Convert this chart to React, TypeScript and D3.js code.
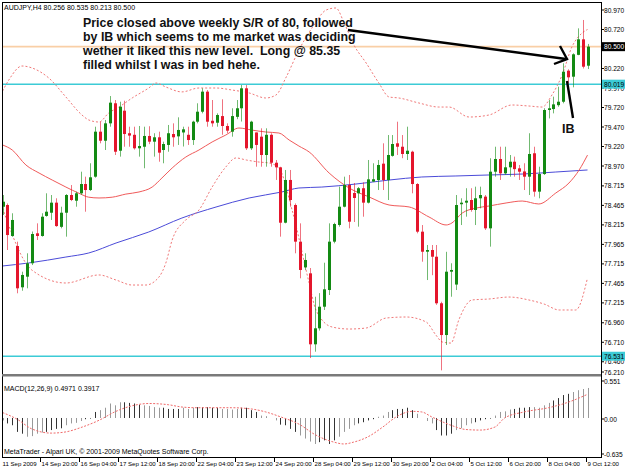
import React from "react";
import * as d3 from "d3";

// AUDJPY H4 candles, 11 Sep 2009 12:00 .. 9 Oct 2009 12:00 (121 bars)
const opens = [
  78.448, 78.47, 78.073, 77.944, 77.415, 77.551, 77.723, 78.107, 78.073, 78.33,
  78.371, 78.5, 78.19, 78.371, 78.598, 78.525, 78.62, 78.739, 78.662, 78.833,
  79.41, 79.294, 79.517, 79.774, 79.166, 79.679, 79.39, 79.37, 79.197, 79.217,
  79.355, 79.282, 79.338, 79.175, 79.24, 79.38, 79.35, 79.4, 79.37, 79.303,
  79.538, 79.666, 79.923, 79.55, 79.525, 79.61, 79.483, 79.41, 79.6, 79.71,
  79.966, 79.197, 79.4, 79.346, 79.111, 79.37, 79.012, 78.953, 78.243, 78.791,
  78.47, 78.0, 77.67, 77.594, 76.684, 76.889, 77.166, 77.38, 78.0, 78.214,
  78.448, 78.726, 78.624, 78.62, 78.685, 78.5, 78.77, 78.79, 79.0, 78.79,
  79.1, 79.261, 79.217, 79.124, 79.153, 78.739, 78.128, 77.871, 77.893, 77.807,
  77.21, 76.803, 77.615, 77.45, 78.48, 78.5, 78.534, 78.406, 78.556, 78.577,
  78.171, 78.897, 79.06, 78.876, 78.953, 79.025, 78.94, 78.9, 78.833, 79.133,
  78.641, 78.867, 79.688, 79.7, 79.75, 79.794, 80.192, 80.115, 80.395, 80.594,
  80.256,
];
const highs = [
  78.598, 78.49, 78.364, 78.0, 77.615, 77.851, 78.13, 78.235, 78.364, 78.62,
  78.598, 78.556, 78.448, 78.61, 78.726, 78.641, 78.897, 78.833, 79.005, 79.474,
  79.538, 79.56, 79.867, 79.816, 79.794, 79.807, 79.474, 79.474, 79.483, 79.474,
  79.48, 79.39, 79.41, 79.282, 79.496, 79.517, 79.594, 79.474, 79.474, 79.55,
  79.774, 79.966, 79.944, 79.816, 79.645, 79.825, 79.517, 79.71, 79.816, 80.008,
  80.008, 79.55, 79.4, 79.453, 79.453, 79.39, 79.047, 78.96, 78.919, 78.919,
  78.49, 78.235, 77.851, 77.662, 77.294, 77.34, 77.73, 78.235, 78.243, 78.705,
  78.833, 78.855, 78.752, 78.7, 78.76, 79.047, 79.005, 79.047, 79.261, 79.367,
  79.367, 79.538, 79.367, 79.474, 79.166, 78.75, 78.213, 77.957, 77.957, 77.957,
  77.23, 77.87, 77.723, 78.598, 78.556, 78.685, 78.685, 78.705, 78.705, 78.598,
  79.069, 79.217, 79.217, 79.217, 79.111, 79.09, 78.983, 79.005, 79.39, 79.217,
  78.961, 79.71, 79.816, 79.859, 79.987, 80.287, 80.21, 80.415, 80.735, 80.842,
  80.535,
];
const lows = [
  78.342, 77.893, 78.063, 77.338, 77.371, 77.402, 77.7, 78.021, 78.064, 78.32,
  78.278, 78.19, 78.171, 78.064, 78.52, 78.448, 78.6, 78.384, 78.65, 78.82,
  79.261, 79.175, 79.474, 79.111, 79.09, 79.217, 79.217, 79.18, 79.09, 78.941,
  79.25, 79.09, 79.025, 79.005, 79.153, 79.217, 79.24, 79.22, 79.24, 79.24,
  79.517, 79.645, 79.474, 79.474, 79.474, 79.37, 79.39, 79.346, 79.57, 79.54,
  79.175, 79.175, 78.961, 78.961, 78.961, 78.961, 78.791, 78.064, 78.235, 78.448,
  77.851, 77.53, 77.637, 76.508, 76.589, 76.86, 77.124, 77.316, 77.979, 78.192,
  78.44, 78.171, 78.252, 78.192, 78.32, 78.49, 78.77, 78.662, 78.662, 78.534,
  79.09, 79.111, 79.07, 79.047, 78.62, 78.107, 77.743, 77.508, 77.57, 77.19,
  76.35, 76.675, 77.294, 77.38, 78.213, 78.32, 78.384, 78.213, 78.427, 78.15,
  77.936, 78.833, 78.791, 78.855, 78.833, 78.833, 78.791, 78.662, 78.598, 78.577,
  78.556, 78.855, 79.58, 79.645, 79.73, 79.774, 80.03, 79.979, 80.39, 80.22,
  80.213,
];
const closes = [
  78.512, 78.085, 78.278, 77.402, 77.573, 77.723, 78.098, 78.073, 78.32, 78.384,
  78.5, 78.2, 78.371, 78.598, 78.534, 78.62, 78.739, 78.662, 78.825, 79.41,
  79.294, 79.517, 79.782, 79.153, 79.73, 79.38, 79.36, 79.197, 79.226, 79.355,
  79.282, 79.338, 79.141, 79.252, 79.39, 79.338, 79.432, 79.44, 79.303, 79.538,
  79.666, 79.923, 79.538, 79.517, 79.624, 79.483, 79.423, 79.61, 79.71, 79.966,
  79.197, 79.538, 79.24, 79.111, 79.37, 79.012, 78.953, 78.243, 78.791, 78.534,
  78.0, 77.637, 77.765, 76.684, 76.889, 77.166, 77.389, 78.0, 78.226, 78.448,
  78.726, 78.256, 78.56, 78.685, 78.5, 78.799, 78.8, 78.983, 78.79, 79.111,
  79.252, 79.217, 79.124, 79.166, 78.739, 78.128, 77.871, 77.893, 77.807, 77.21,
  76.803, 77.615, 77.637, 78.47, 78.5, 78.525, 78.406, 78.556, 78.598, 78.171,
  78.897, 79.06, 78.876, 78.953, 79.025, 78.93, 78.897, 78.833, 79.124, 78.641,
  78.867, 79.688, 79.71, 79.76, 79.794, 80.179, 80.107, 80.402, 80.594, 80.243,
  80.5,
];

// Bollinger bands and moving average at sample bars
const midBars = [0, 2, 4.8, 7.5, 10.2, 13, 15.7, 17.7, 19.8, 22.5, 25.3, 28, 30.7, 32.7, 34.8, 37.6, 40.3, 43, 45.8, 48.5, 51.2, 54, 56.7, 58.8, 60.8, 62.9, 67, 71.1, 75.2, 79.3, 83.4, 87.5, 91, 92.2, 94.3, 97.1, 99.8, 103.3, 106.6, 110, 113.5, 116.2, 118.3, 120];
const midVals = [79.24, 79.175, 78.983, 78.88, 78.79, 78.7, 78.62, 78.57, 78.56, 78.57, 78.61, 78.637, 78.7, 78.816, 78.944, 79.085, 79.175, 79.278, 79.367, 79.457, 79.43, 79.406, 79.393, 79.303, 79.226, 79.15, 78.88, 78.688, 78.573, 78.47, 78.445, 78.316, 78.214, 78.24, 78.367, 78.43, 78.457, 78.496, 78.521, 78.483, 78.624, 78.752, 78.92, 79.11];
const upperBars = [0, 1.3, 4, 6.1, 9.5, 13, 16.3, 17.7, 19.8, 21.8, 23.9, 26.6, 30, 31.5, 33.5, 36.8, 40.3, 43.8, 47.1, 50.6, 54, 56.1, 58.2, 60.8, 63.9, 66.4, 68.4, 70, 72.1, 74.6, 77.2, 79.3, 81.3, 85.4, 89.5, 91.6, 95.7, 99.8, 104.5, 108, 110.7, 112.7, 114.8, 116.8, 118.9, 120];
const upperVals = [79.93, 80.073, 80.252, 80.226, 80.098, 79.855, 79.624, 79.56, 79.534, 79.65, 79.726, 79.842, 79.97, 80.034, 79.983, 79.92, 79.97, 79.97, 79.944, 79.906, 79.842, 79.88, 80.111, 80.457, 80.778, 80.97, 80.996, 80.816, 80.52, 80.29, 80.034, 79.855, 79.842, 79.778, 79.726, 79.726, 79.598, 79.624, 79.752, 79.739, 79.726, 79.88, 80.137, 80.496, 80.675, 80.72];
const lowerBars = [0, 6, 13, 19.8, 23.3, 26.6, 29.4, 32.1, 33.5, 34.8, 37.6, 40.3, 43, 45.8, 47.9, 50, 52.6, 54.7, 56.7, 59.4, 62.9, 64.3, 67.6, 71.1, 74.6, 78.7, 82.8, 86.9, 88.9, 90.2, 92, 93.6, 96.3, 99.8, 103.9, 108, 111.1, 114.2, 117.6, 120];
const lowerVals = [78.43, 77.637, 77.47, 77.573, 77.508, 77.444, 77.444, 77.547, 77.726, 78.021, 78.278, 78.406, 78.7, 78.957, 79.073, 79.047, 79.021, 79.008, 78.944, 78.406, 77.47, 77.124, 76.906, 76.88, 76.893, 77.021, 77.034, 76.97, 76.803, 76.714, 76.7, 76.996, 77.252, 77.265, 77.29, 77.252, 77.2, 77.124, 77.124, 77.534];
const maBars = [0, 5.4, 13, 17.7, 23.3, 30, 36.8, 43.8, 50.6, 57.3, 60.8, 65.5, 72.5, 79.3, 86, 93, 99.8, 106.6, 113.5, 120];
const maVals = [77.688, 77.727, 77.803, 77.855, 77.983, 78.124, 78.303, 78.444, 78.56, 78.637, 78.688, 78.7, 78.739, 78.79, 78.829, 78.842, 78.855, 78.867, 78.893, 78.919];

// MACD(12,26,9)
const macdHist = [
  -0.04, -0.09, -0.12, -0.23, -0.26, -0.31, -0.3, -0.26, -0.24, -0.23,
  -0.2, -0.18, -0.17, -0.12, -0.09, -0.08, -0.05, -0.02, -0.01, 0.1,
  0.13, 0.17, 0.24, 0.21, 0.26, 0.26, 0.25, 0.24, 0.22, 0.21,
  0.2, 0.18, 0.17, 0.17, 0.15, 0.15, 0.15, 0.17, 0.15, 0.17,
  0.18, 0.18, 0.18, 0.17, 0.17, 0.15, 0.15, 0.14, 0.15, 0.17,
  0.17, 0.13, 0.1, 0.04, 0.03, 0.0, -0.04, -0.11, -0.12, -0.18,
  -0.23, -0.29, -0.34, -0.39, -0.43, -0.4, -0.37, -0.43, -0.37, -0.31,
  -0.23, -0.18, -0.12, -0.09, -0.07, -0.04, -0.02, 0.02, 0.04, 0.1,
  0.13, 0.15, 0.15, 0.17, 0.13, 0.07, 0.0, -0.05, -0.09, -0.2,
  -0.29, -0.29, -0.26, -0.2, -0.17, -0.12, -0.09, -0.07, -0.04, -0.02,
  -0.01, 0.04, 0.1, 0.11, 0.14, 0.15, 0.17, 0.17, 0.18, 0.18,
  0.17, 0.21, 0.25, 0.29, 0.33, 0.38, 0.4, 0.43, 0.46, 0.48,
  0.4971,
];
const signalBars = [0, 3, 6, 10, 13, 16, 20, 23, 27, 30, 34, 37, 40, 44, 47, 51, 54, 57, 61, 64, 68, 70, 72, 75, 78, 81, 84, 86, 88, 92, 95, 98, 101, 103, 107, 112, 116, 120];
const signalVals = [0.09, -0.02, -0.18, -0.25, -0.23, -0.16, -0.03, 0.1, 0.21, 0.24, 0.22, 0.18, 0.17, 0.17, 0.17, 0.15, 0.1, 0.02, -0.11, -0.27, -0.4, -0.43, -0.4, -0.31, -0.15, 0.03, 0.11, 0.1, 0.02, -0.12, -0.19, -0.2, -0.15, 0.0, 0.1, 0.17, 0.26, 0.3917];

const priceTicks = ["80.970", "80.720", "80.220", "79.970", "79.720", "79.470", "79.220", "78.970", "78.715", "78.465", "78.215", "77.965", "77.715", "77.465", "77.215", "76.960", "76.710", "76.460", "76.210"];
const dateLabels = ["11 Sep 2009", "14 Sep 20:00", "16 Sep 04:00", "17 Sep 12:00", "18 Sep 20:00", "22 Sep 04:00", "23 Sep 12:00", "24 Sep 20:00", "28 Sep 04:00", "29 Sep 12:00", "30 Sep 20:00", "2 Oct 04:00", "5 Oct 12:00", "6 Oct 20:00", "8 Oct 04:00", "9 Oct 12:00"];
const hLevels = [80.019, 76.531];
const bidPrice = 80.5;
const noteLines = [
  "Price closed above weekly S/R of 80, followed",
  "by IB which seems to me market was deciding",
  "wether it liked this new level.  Long @ 85.35",
  "filled whilst I was in bed hehe.",
];

const W = 625;
const H = 469;
const LEFT = 2;
const RIGHT = 601;
const TOP = 2;
const MAIN_BOTTOM = 374;
const MACD_TOP = 377;
const BOTTOM = 457;
const font = "'Liberation Sans', Arial, sans-serif";

export default function App() {
  const x = d3.scaleLinear().domain([0, 120]).range([2.5, 587.5]);
  const y = d3.scaleLinear().domain([76.21, 80.97]).range([381.28, 10]);
  const ym = d3.scaleLinear().domain([-0.635, 0.551]).range([456.35, 384.72]);

  const series = (bars: number[], vals: number[], sy: d3.ScaleLinear<number, number>) =>
    d3
      .line<number>()
      .x((_, i) => x(bars[i]))
      .y((v) => sy(v))
      .curve(d3.curveMonotoneX)(vals) || "";

  const green = "#138a13";
  const red = "#e4162c";
  const cyan = "#3ccbd6";

  return (
    <svg
      width={W}
      height={H}
      style={{ position: "absolute", left: 0, top: 0, background: "#fff" }}
      fontFamily={font}
    >
      <defs>
        <clipPath id="mainClip">
          <rect x={LEFT + 1} y={TOP + 1} width={RIGHT - LEFT - 1} height={MAIN_BOTTOM - TOP - 1} />
        </clipPath>
        <clipPath id="macdClip">
          <rect x={LEFT + 1} y={MACD_TOP} width={RIGHT - LEFT - 1} height={BOTTOM - MACD_TOP} />
        </clipPath>
      </defs>
      <rect width={W} height={H} fill="#fff" />

      <g clipPath="url(#mainClip)">
        {/* bid line and horizontal S/R lines */}
        <line x1={LEFT} x2={RIGHT} y1={y(bidPrice)} y2={y(bidPrice)} stroke="#f9cfa6" strokeWidth={1.6} />
        {hLevels.map((v) => (
          <line key={v} x1={LEFT} x2={RIGHT} y1={y(v)} y2={y(v)} stroke={cyan} strokeWidth={1.6} />
        ))}

        {/* indicators */}
        <path d={series(maBars, maVals, y)} fill="none" stroke="#4b4bd8" strokeWidth={1} />
        <path d={series(midBars, midVals, y)} fill="none" stroke="#f05a5a" strokeWidth={1} />
        <path d={series(upperBars, upperVals, y)} fill="none" stroke="#f07878" strokeWidth={1} strokeDasharray="2,2" />
        <path d={series(lowerBars, lowerVals, y)} fill="none" stroke="#f07878" strokeWidth={1} strokeDasharray="2,2" />

        {/* candles */}
        {closes.map((c, i) => {
          const o = opens[i];
          const up = c >= o;
          const cx = Math.round(x(i)) + 0.5;
          const col = up ? green : red;
          const top = y(Math.max(o, c));
          const bot = y(Math.min(o, c));
          return (
            <g key={i}>
              <line x1={cx} x2={cx} y1={y(highs[i])} y2={y(lows[i])} stroke={col} strokeOpacity={0.6} strokeWidth={1} />
              <rect x={cx - 1.5} y={top} width={3} height={Math.max(1, bot - top)} fill={col} />
            </g>
          );
        })}

        {/* annotation */}
        {noteLines.map((t, i) => (
          <text key={i} x={83} y={27 + i * 13.9} fontSize={12.4} fontWeight="bold" fill="#111" style={{ whiteSpace: "pre" }}>
            {t}
          </text>
        ))}
        <line x1={348} y1={30} x2={566} y2={59} stroke="#000" strokeWidth={2.4} />
        <polyline points="560,46 567,59 554,64" fill="none" stroke="#000" strokeWidth={2.4} />
        <line x1={567} y1={81} x2={573} y2={118} stroke="#000" strokeWidth={2.4} />
        <text x={562} y={133} fontSize={12.5} fontWeight="bold" fill="#111">
          IB
        </text>
      </g>

      <text x={4} y={10} fontSize={7} fill="#000">
        AUDJPY,H4 80.256 80.535 80.213 80.500
      </text>

      {/* MACD window */}
      <g clipPath="url(#macdClip)">
        {macdHist.map((v, i) => {
          const px = x(i);
          const cx = Math.round(px) + 0.5;
          const dark = px - Math.floor(px) < 0.5;
          return (
            <line key={i} x1={cx} x2={cx} y1={ym(0)} y2={ym(v)} stroke={dark ? "#333" : "#999"} strokeWidth={1} />
          );
        })}
        <path d={series(signalBars, signalVals, ym)} fill="none" stroke="#f06a6a" strokeWidth={1} strokeDasharray="2,1.5" />
      </g>
      <text x={4} y={391} fontSize={7} fill="#000">
        MACD(12,26,9) 0.4971 0.3917
      </text>
      <text x={4} y={454} fontSize={7} fill="#000">
        MetaTrader - Alpari UK, © 2001-2009 MetaQuotes Software Corp.
      </text>

      {/* frame */}
      <rect x={LEFT + 0.5} y={TOP + 0.5} width={RIGHT - LEFT} height={BOTTOM - TOP} fill="none" stroke="#000" strokeWidth={1} />
      <rect x={LEFT} y={MAIN_BOTTOM} width={RIGHT - LEFT} height={2.5} fill="#7a7a7a" />

      {/* price axis */}
      {priceTicks.map((t) => {
        const ty = Math.min(y(+t), 372);
        return (
          <g key={t}>
            <line x1={RIGHT} x2={RIGHT + 3} y1={ty} y2={ty} stroke="#000" />
            <text x={604} y={ty + 2.5} fontSize={6.6} fill="#000">
              {t}
            </text>
          </g>
        );
      })}
      <rect x={602} y={y(bidPrice) - 4.5} width={23} height={9} fill="#000" />
      <text x={604} y={y(bidPrice) + 2.5} fontSize={6.6} fill="#fff">
        80.500
      </text>
      {hLevels.map((v) => (
        <g key={v}>
          <rect x={602} y={y(v) - 4.5} width={23} height={9} fill={cyan} />
          <text x={604} y={y(v) + 2.5} fontSize={6.6} fill="#000">
            {v.toFixed(3)}
          </text>
        </g>
      ))}

      {/* MACD axis */}
      {[
        { t: "0.551", yy: 381 },
        { t: "0.00", yy: 419 },
        { t: "-0.635", yy: 454 },
      ].map((d) => (
        <g key={d.t}>
          <line x1={RIGHT} x2={RIGHT + 3} y1={d.yy} y2={d.yy} stroke="#000" />
          <text x={604} y={d.yy + 2.5} fontSize={6.6} fill="#000">
            {d.t}
          </text>
        </g>
      ))}

      {/* time axis */}
      {dateLabels.map((t, k) => {
        const tx = x(k * 8);
        return (
          <g key={t}>
            {k > 0 && <line x1={tx - 1} x2={tx - 1} y1={BOTTOM} y2={BOTTOM + 5} stroke="#000" />}
            <text x={tx} y={466} fontSize={6.1} fill="#000">
              {t}
            </text>
          </g>
        );
      })}
    </svg>
  );
}
